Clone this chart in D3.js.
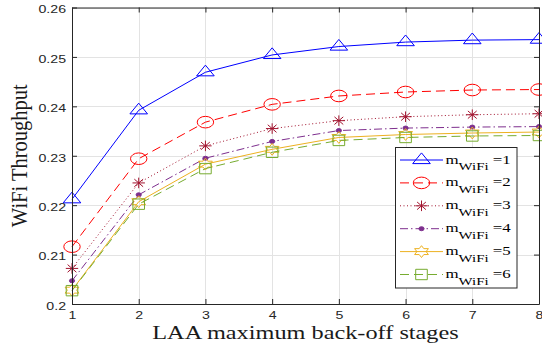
<!DOCTYPE html>
<html>
<head>
<meta charset="utf-8">
<script src="https://cdn.jsdelivr.net/npm/d3@7"></script>
<style>
  html, body { margin: 0; padding: 0; background: #fff; }
  svg { display: block; }
</style>
</head>
<body>
<svg id="chart" width="542" height="348"></svg>
<script>
// ---- data ----
const categories = [1, 2, 3, 4, 5, 6, 7, 8];
const mWiFi1 = [0.2212, 0.2392, 0.2469, 0.2504, 0.2521, 0.2530, 0.2534, 0.2535];
const mWiFi2 = [0.2116, 0.2294, 0.2368, 0.2404, 0.2421, 0.2429, 0.2433, 0.2434];
const mWiFi3 = [0.2072, 0.2245, 0.2320, 0.2355, 0.2371, 0.2379, 0.2383, 0.2385];
const mWiFi4 = [0.2047, 0.2221, 0.2295, 0.2329, 0.2351, 0.2356, 0.2358, 0.2359];
const mWiFi5 = [0.2028, 0.2207, 0.2283, 0.2313, 0.2337, 0.2343, 0.2346, 0.2348];
const mWiFi6 = [0.2027, 0.2202, 0.2274, 0.2307, 0.2331, 0.2337, 0.2340, 0.2341];
const seriesLabels = ["=1", "=2", "=3", "=4", "=5", "=6"];
const xTicks = [1, 2, 3, 4, 5, 6, 7, 8];
const yTicks = [0.2, 0.21, 0.22, 0.23, 0.24, 0.25, 0.26];
const yTickLabels = ["0.2", "0.21", "0.22", "0.23", "0.24", "0.25", "0.26"];
const xLabel = "LAA maximum back-off stages";
const yLabel = "WiFi Throughput";

// ---- styles ----
const SX = 1.35; // horizontal stretch of the original figure
const styles = [
  { color: "#0000ff", dash: null,            marker: "tri" },
  { color: "#ff0000", dash: "9,5",           marker: "circle" },
  { color: "#A2142F", dash: "1,2.5",         marker: "star" },
  { color: "#7E2F8E", dash: "8,3,1.5,3",     marker: "dot" },
  { color: "#EDB120", dash: null,            marker: "hex" },
  { color: "#77AC30", dash: "9,5",           marker: "square" }
];
const allSeries = [mWiFi1, mWiFi2, mWiFi3, mWiFi4, mWiFi5, mWiFi6];

const L = 72, R = 539, T = 7.5, B = 304;
const x = d3.scaleLinear().domain([1, 8]).range([L, R]);
const y = d3.scaleLinear().domain([0.2, 0.26]).range([B, T]);

const svg = d3.select("#chart");
svg.append("rect").attr("width", 542).attr("height", 348).attr("fill", "#fff");

// grid
const grid = svg.append("g").attr("stroke", "#e3e3e3").attr("stroke-width", 1);
grid.selectAll("line.gx").data(xTicks).join("line")
  .attr("x1", d => Math.round(x(d)) + 0.5).attr("x2", d => Math.round(x(d)) + 0.5)
  .attr("y1", T).attr("y2", B);
grid.selectAll("line.gy").data(yTicks).join("line")
  .attr("y1", d => Math.round(y(d)) + 0.5).attr("y2", d => Math.round(y(d)) + 0.5)
  .attr("x1", L).attr("x2", R);

// marker shapes
function markerPath(type) {
  if (type === "tri") return "M0,-7.1L8.8,3.6L-8.8,3.6Z";
  if (type === "circle") { const rx = 8.2, ry = 5.8; return `M${-rx},0A${rx},${ry} 0 1,0 ${rx},0A${rx},${ry} 0 1,0 ${-rx},0Z`; }
  if (type === "star") return "M-6.2,0H6.2M0,-5.3V5.3M-4.4,-3.8L4.4,3.8M-4.4,3.8L4.4,-3.8";
  if (type === "dot") { const rx = 2.6, ry = 2; return `M${-rx},0A${rx},${ry} 0 1,0 ${rx},0A${rx},${ry} 0 1,0 ${-rx},0Z`; }
  if (type === "hex") {
    const Ro = 5.9, Ri = Ro / Math.sqrt(3); let p = [];
    for (let k = 0; k < 12; k++) {
      const a = -Math.PI / 2 + k * Math.PI / 6, r = k % 2 === 0 ? Ro : Ri;
      p.push([r * Math.cos(a) * SX, r * Math.sin(a)]);
    }
    return "M" + p.map(q => q[0].toFixed(2) + "," + q[1].toFixed(2)).join("L") + "Z";
  }
  if (type === "square") return "M-5.8,-5.2H5.8V5.2H-5.8Z";
}

// series
const line = d3.line().x((d, i) => x(categories[i])).y(d => y(d));
allSeries.forEach((vals, si) => {
  const st = styles[si];
  const g = svg.append("g");
  g.append("path").attr("d", line(vals)).attr("fill", "none")
    .attr("stroke", st.color).attr("stroke-width", 1)
    .attr("stroke-dasharray", st.dash);
  g.selectAll("path.m").data(vals).join("path").attr("class", "m")
    .attr("d", markerPath(st.marker))
    .attr("transform", (d, i) => `translate(${x(categories[i])},${y(d)})`)
    .attr("fill", st.marker === "dot" ? st.color : "none")
    .attr("stroke", st.color).attr("stroke-width", 1);
});

// axes
const axColor = "#262626";
const fmtY = d => yTickLabels[yTicks.findIndex(t => Math.abs(t - d) < 1e-9)];
const gL = svg.append("g").attr("transform", `translate(${L},0)`)
  .call(d3.axisLeft(y).tickValues(yTicks).tickFormat(fmtY).tickSizeInner(-5).tickSizeOuter(0).tickPadding(4.4));
const gB = svg.append("g").attr("transform", `translate(0,${B})`)
  .call(d3.axisBottom(x).tickValues(xTicks).tickFormat(d3.format("d")).tickSizeInner(-5).tickSizeOuter(0).tickPadding(8));
const gT = svg.append("g").attr("transform", `translate(0,${T})`)
  .call(d3.axisTop(x).tickValues(xTicks).tickFormat("").tickSizeInner(-5).tickSizeOuter(0));
const gR = svg.append("g").attr("transform", `translate(${R},0)`)
  .call(d3.axisRight(y).tickValues(yTicks).tickFormat("").tickSizeInner(-5).tickSizeOuter(0));
[gL, gB, gT, gR].forEach(g => {
  g.selectAll("path.domain").attr("stroke", axColor);
  g.selectAll(".tick line").attr("stroke", axColor);
  g.selectAll("text").attr("fill", axColor)
    .style("font-family", "'Liberation Sans', Arial, sans-serif").style("font-size", "10.5px");
});
gL.selectAll("text").attr("dy", "0.5em").attr("transform", `scale(${SX},1)`);
gB.selectAll("text").attr("transform", `scale(${SX},1)`);

// axis labels
svg.append("text").text(xLabel)
  .attr("transform", `translate(${(L + R) / 2},339) scale(${SX},1)`)
  .attr("text-anchor", "middle").attr("fill", "#1a1a1a")
  .style("font-family", "'Liberation Serif', 'Times New Roman', serif").style("font-size", "18px");
svg.append("text").text(yLabel)
  .attr("transform", `translate(27,${(T + B) / 2}) scale(1.1,1) rotate(-90)`)
  .attr("text-anchor", "middle").attr("fill", "#1a1a1a")
  .style("font-family", "'Liberation Serif', 'Times New Roman', serif").style("font-size", "20.5px");

// legend
const lg = svg.append("g");
lg.append("rect").attr("x", 395.5).attr("y", 147.5).attr("width", 121.5).attr("height", 140.5)
  .attr("fill", "#fff").attr("stroke", axColor).attr("stroke-width", 1);
seriesLabels.forEach((lab, i) => {
  const st = styles[i];
  const cy = 160 + i * 22.9;
  lg.append("line").attr("x1", 400).attr("x2", 443).attr("y1", cy).attr("y2", cy)
    .attr("stroke", st.color).attr("stroke-width", 1).attr("stroke-dasharray", st.dash);
  lg.append("path").attr("d", markerPath(st.marker))
    .attr("transform", `translate(421.5,${cy})`)
    .attr("fill", st.marker === "dot" ? st.color : "none").attr("stroke", st.color).attr("stroke-width", 1);
  const t = lg.append("text")
    .attr("transform", `translate(445.5,${cy + 3.5}) scale(${SX},1)`)
    .attr("fill", "#000")
    .style("font-family", "'Liberation Serif', 'Times New Roman', serif").style("font-size", "12.5px");
  t.append("tspan").text("m");
  t.append("tspan").text("WiFi").attr("dy", 6.5).style("font-size", "11px");
  t.append("tspan").text(" " + lab).attr("dy", -6.5);
});
</script>
</body>
</html>
